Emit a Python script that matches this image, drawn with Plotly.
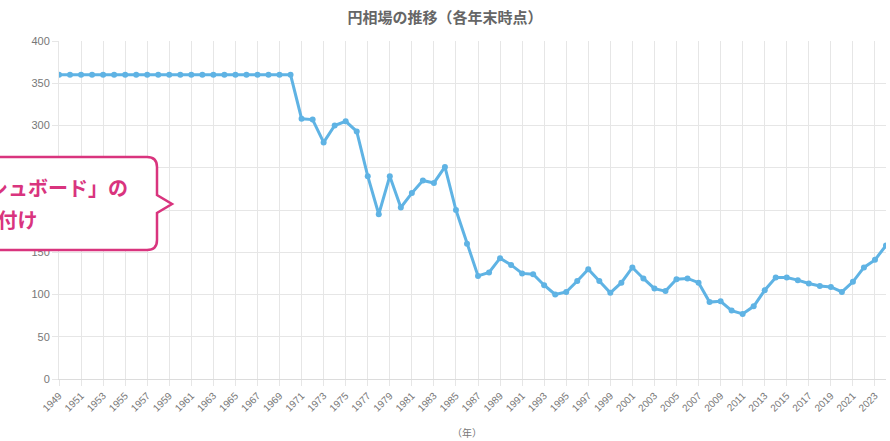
import plotly.graph_objects as go

years = list(range(1949, 2025))
rates = [360] * 22 + [
    308, 307, 280, 300, 305, 293, 240, 195, 240, 203,   # 1971-1980
    220, 235, 232, 251, 200, 160, 122, 126, 143, 135,   # 1981-1990
    125, 124, 111, 100, 103, 116, 130, 116, 102, 114,   # 1991-2000
    132, 119, 107, 104, 118, 119, 114, 91, 92, 81,      # 2001-2010
    77, 86, 105, 120, 120, 117, 113, 110, 109, 103,     # 2011-2020
    115, 132, 141, 158,                                 # 2021-2024
]
tick_years = list(range(1949, 2025, 2))
tick_labels = [str(y) for y in tick_years]
y_ticks = list(range(0, 401, 50))

title_text = "円相場の推移（各年末時点）"
x_title = "（年）"
callout_lines = ["「マーケット・ダッシュボード」の", "補足資料としての位置付け"]

W, H = 890, 441
L, R, T, B = 59, 4, 41, 62
PW, PH = W - L - R, H - T - B

def px(x):
    return (x - L) / PW

def py(y):
    return (H - B - y) / PH

FONT = "Noto Sans CJK JP, Noto Sans, sans-serif"
PINK = "#d9347e"
BLUE = "#5fb3e4"
GRID = "#e6e6e6"

fig = go.Figure()
fig.add_trace(go.Scatter(
    x=years, y=rates, mode="lines+markers",
    line=dict(color=BLUE, width=3),
    marker=dict(color=BLUE, size=6),
    hoverinfo="x+y", showlegend=False,
))

# callout path (pixel -> paper)
bx0, bx1, by0, by1, r = -200, 157, 157, 250, 10
tipx, tipy, ty0, ty1 = 172, 204, 195, 213
pts = (
    f"M {px(bx0)},{py(by0)} L {px(bx1 - r)},{py(by0)} "
    f"Q {px(bx1)},{py(by0)} {px(bx1)},{py(by0 + r)} "
    f"L {px(bx1)},{py(ty0)} L {px(tipx)},{py(tipy)} L {px(bx1)},{py(ty1)} "
    f"L {px(bx1)},{py(by1 - r)} Q {px(bx1)},{py(by1)} {px(bx1 - r)},{py(by1)} "
    f"L {px(bx0)},{py(by1)} Z"
)
fig.add_shape(type="path", path=pts, xref="paper", yref="paper",
              line=dict(color=PINK, width=2.5), fillcolor="white", layer="above")

fig.add_annotation(text=callout_lines[0], x=px(130), y=py(187), xref="paper", yref="paper",
                   xanchor="right", yanchor="middle", showarrow=False,
                   font=dict(family=FONT, size=20, color=PINK, weight="bold"))
fig.add_annotation(text=callout_lines[1], x=px(39), y=py(220), xref="paper", yref="paper",
                   xanchor="right", yanchor="middle", showarrow=False,
                   font=dict(family=FONT, size=20, color=PINK, weight="bold"))

fig.add_annotation(text=x_title, x=px(467), y=py(432), xref="paper", yref="paper",
                   xanchor="center", yanchor="middle", showarrow=False,
                   font=dict(family=FONT, size=10, color="#777"))

fig.update_layout(
    width=W, height=H,
    margin=dict(l=L, r=R, t=T, b=B),
    paper_bgcolor="white", plot_bgcolor="white",
    title=dict(text=title_text, x=0.5, xanchor="center", y=1 - 18 / H, yanchor="middle",
               font=dict(family=FONT, size=15, color="#666", weight="bold")),
    font=dict(family=FONT),
    xaxis=dict(range=[1949, 2024], tickmode="array", tickvals=tick_years, ticktext=tick_labels,
               tickangle=-45, tickfont=dict(size=10, color="#777", family="Liberation Sans, Arial"),
               showgrid=True, gridcolor=GRID, gridwidth=1, zeroline=False,
               ticks="outside", ticklen=6, tickcolor=GRID, showline=True, linecolor="#dcdcdc"),
    yaxis=dict(range=[0, 400], tickmode="array", tickvals=y_ticks,
               tickfont=dict(size=11, color="#777", family="Liberation Sans, Arial"),
               showgrid=True, gridcolor=GRID, gridwidth=1, zeroline=False,
               ticks="outside", ticklen=6, tickcolor=GRID, showline=True, linecolor="#e6e6e6"),
)

fig.write_html("out.html", config={"displayModeBar": False},
               post_script="document.body.style.margin='0';document.body.style.overflow='hidden';")
